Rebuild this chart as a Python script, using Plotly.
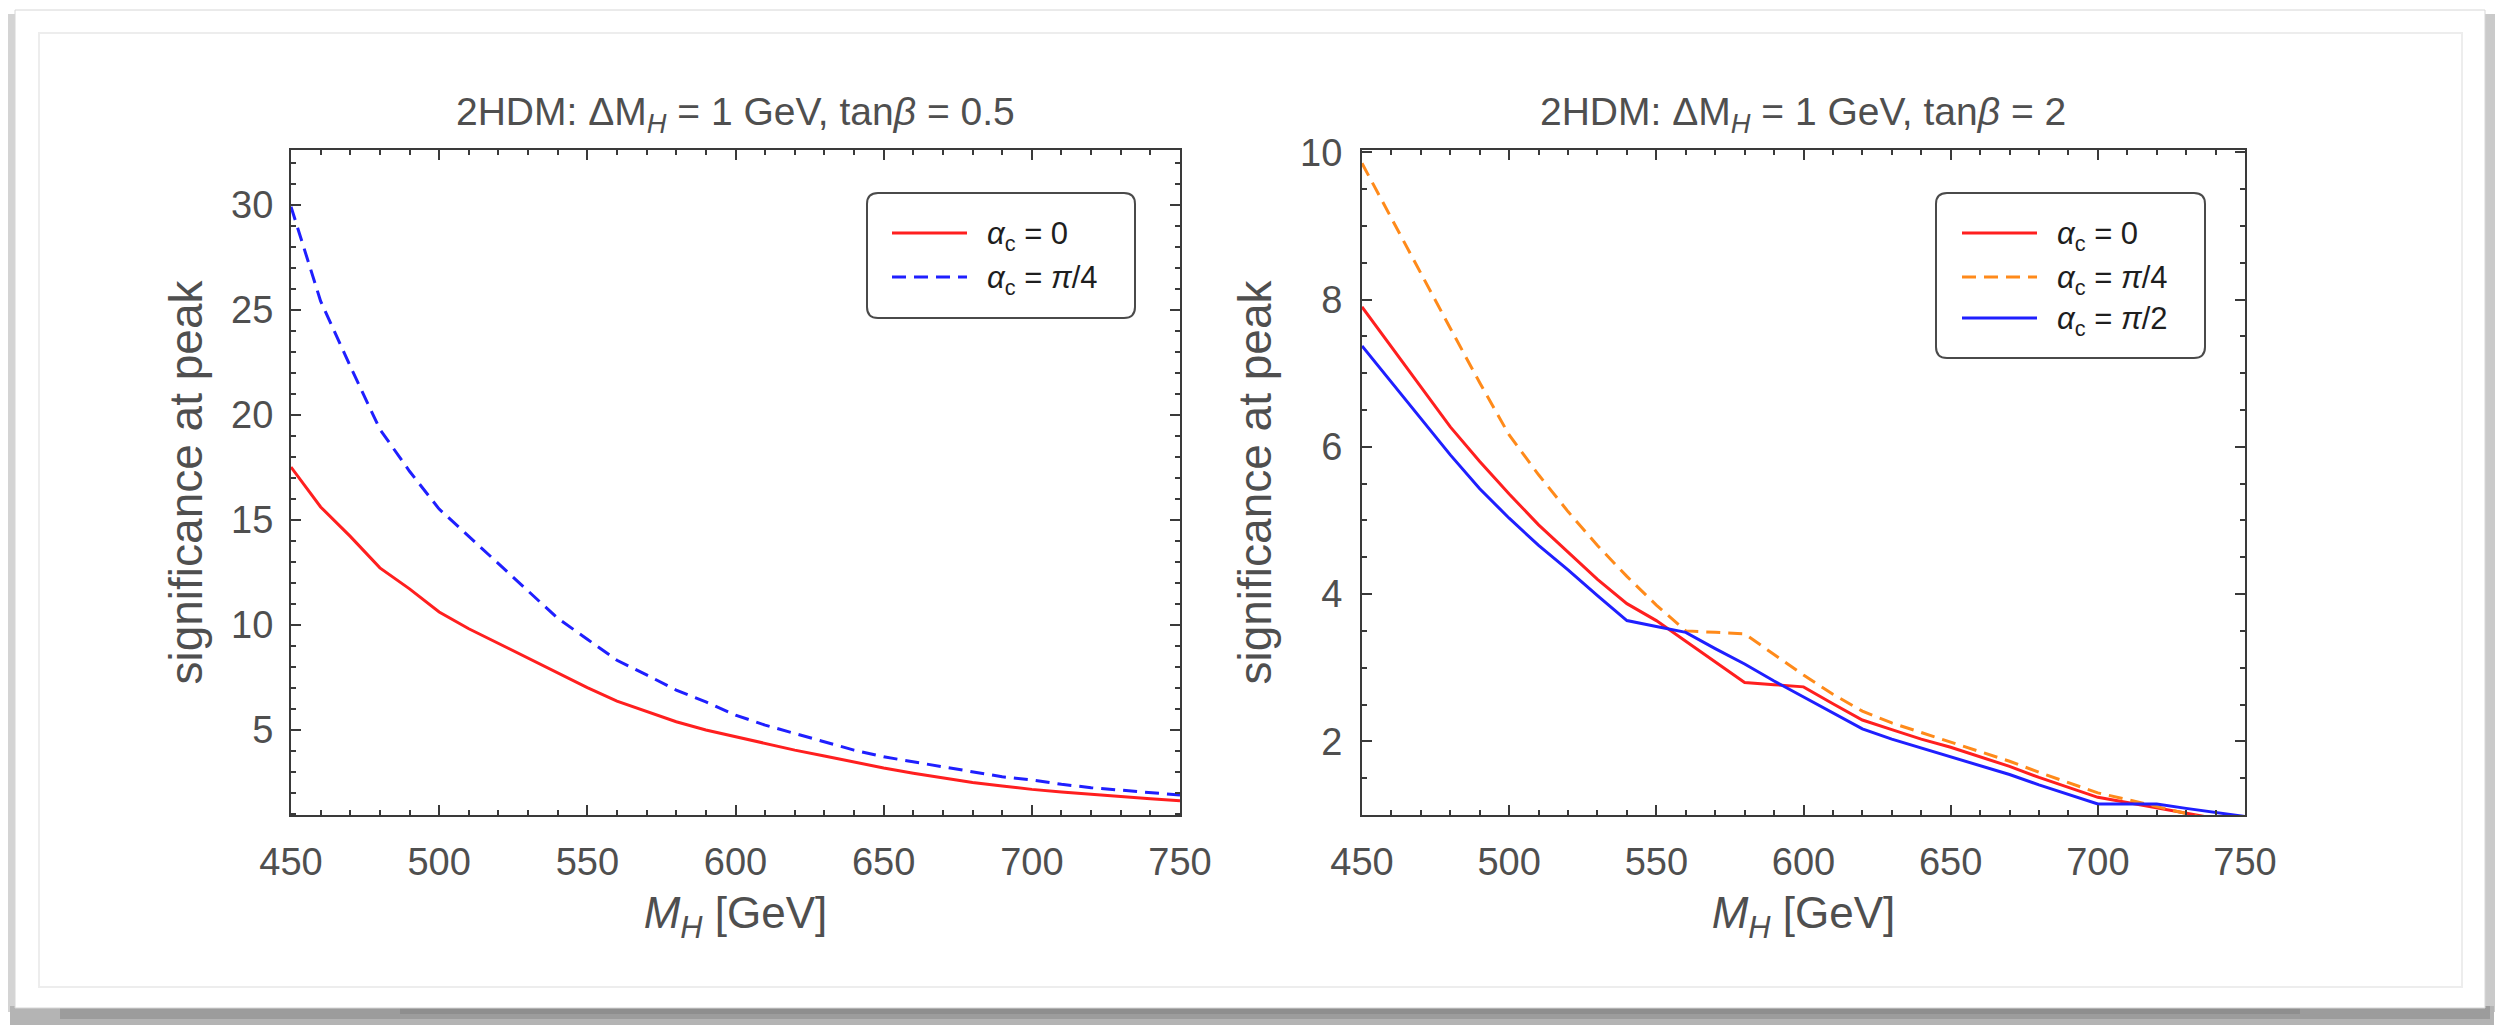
import plotly.graph_objects as go

W, H = 2505, 1025

# ---------------- data ----------------
mass = [450, 460, 470, 480, 490, 500, 510, 520, 530, 540, 550, 560, 570, 580, 590, 600,
        610, 620, 630, 640, 650, 660, 670, 680, 690, 700, 710, 720, 730, 740, 750]

# left panel: tan(beta) = 0.5
left_alpha0 = [17.5, 15.6, 14.2, 12.7, 11.7, 10.6, 9.8, 9.1, 8.4, 7.7, 7.0, 6.35, 5.85, 5.37, 4.98, 4.66,
               4.34, 4.02, 3.74, 3.45, 3.17, 2.92, 2.69, 2.48, 2.31, 2.15, 2.03, 1.91, 1.80, 1.70, 1.61]
left_alpha_pi4 = [29.9, 25.4, 22.3, 19.3, 17.3, 15.5, 14.2, 12.9, 11.6, 10.3, 9.3, 8.3, 7.6, 6.88, 6.32, 5.69,
                  5.21, 4.82, 4.42, 4.02, 3.70, 3.47, 3.23, 2.99, 2.75, 2.60, 2.39, 2.23, 2.12, 1.99, 1.88]

# right panel: tan(beta) = 2
right_alpha0 = [7.90, 7.36, 6.82, 6.27, 5.80, 5.36, 4.94, 4.57, 4.20, 3.87, 3.64, 3.36, 3.08, 2.80, 2.77, 2.74,
                2.51, 2.29, 2.16, 2.03, 1.92, 1.79, 1.66, 1.51, 1.38, 1.24, 1.17, 1.10, 1.02, 0.95, 0.88]
right_alpha_pi4 = [9.85, 9.10, 8.34, 7.61, 6.87, 6.16, 5.62, 5.12, 4.66, 4.24, 3.85, 3.50, 3.48, 3.46, 3.18, 2.90,
                   2.64, 2.41, 2.25, 2.12, 2.00, 1.86, 1.73, 1.58, 1.44, 1.30, 1.21, 1.12, 1.02, 0.92, 0.85]
right_alpha_pi2 = [7.37, 6.88, 6.39, 5.89, 5.43, 5.03, 4.66, 4.33, 3.98, 3.64, 3.56, 3.48, 3.26, 3.05, 2.82, 2.60,
                   2.38, 2.17, 2.03, 1.91, 1.80, 1.67, 1.55, 1.41, 1.28, 1.15, 1.15, 1.15, 1.09, 1.03, 0.98]

x_ticks = [450, 500, 550, 600, 650, 700, 750]
left_y_ticks = [5, 10, 15, 20, 25, 30]
right_y_ticks = [2, 4, 6, 8, 10]

left_title = "2HDM: ΔM<sub><i>H</i></sub> = 1 GeV, tan<i>β</i> = 0.5"
right_title = "2HDM: ΔM<sub><i>H</i></sub> = 1 GeV, tan<i>β</i> = 2"
x_title = "<i>M</i><sub><i>H</i></sub> [GeV]"
y_title = "significance at peak"
lab0 = "<i>α</i><sub>c</sub> = 0"
lab_pi4 = "<i>α</i><sub>c</sub> = <i>π</i>/4"
lab_pi2 = "<i>α</i><sub>c</sub> = <i>π</i>/2"

# ---------------- style ----------------
RED = "#ff1f1f"
BLUE = "#1f1fff"
ORANGE = "#ff8a1a"
TXT = "#4f4f4f"
FRAME = "#3a3a3a"
FONT = "Liberation Sans"
LW = 3
DASH = "14px,8px"


def PX(x):
    return x / W


def PY(y):
    return 1 - y / H


fig = go.Figure()

fig.add_trace(go.Scatter(x=mass, y=left_alpha0, mode="lines", name=lab0,
                         line=dict(color=RED, width=LW), xaxis="x", yaxis="y", showlegend=False))
fig.add_trace(go.Scatter(x=mass, y=left_alpha_pi4, mode="lines", name=lab_pi4,
                         line=dict(color=BLUE, width=LW, dash=DASH), xaxis="x", yaxis="y", showlegend=False))
fig.add_trace(go.Scatter(x=mass, y=right_alpha0, mode="lines", name=lab0,
                         line=dict(color=RED, width=LW), xaxis="x2", yaxis="y2", showlegend=False))
fig.add_trace(go.Scatter(x=mass, y=right_alpha_pi4, mode="lines", name=lab_pi4,
                         line=dict(color=ORANGE, width=LW, dash=DASH), xaxis="x2", yaxis="y2", showlegend=False))
fig.add_trace(go.Scatter(x=mass, y=right_alpha_pi2, mode="lines", name=lab_pi2,
                         line=dict(color=BLUE, width=LW), xaxis="x2", yaxis="y2", showlegend=False))

# plot boxes (pixels)
L = dict(x0=291, x1=1180)
R = dict(x0=1362, x1=2245)
TOP, BOT = 150, 815

common = dict(showgrid=False, zeroline=False, showline=True, linecolor=FRAME, linewidth=2,
              mirror="allticks", ticks="inside", ticklen=10, tickwidth=2, tickcolor=FRAME,
              tickfont=dict(family=FONT, size=38, color=TXT), automargin=False)

xcommon = dict(common, range=[450, 750], tickmode="array", tickvals=x_ticks,
               ticktext=[str(v) for v in x_ticks], ticklabelstandoff=12,
               minor=dict(ticks="inside", ticklen=5, tickwidth=1.5, tickcolor=FRAME, dtick=10, tick0=450),
               title=dict(text=x_title, font=dict(family=FONT, size=44, color=TXT), standoff=16))

fig.update_layout(
    width=W, height=H, template="none",
    margin=dict(l=0, r=0, t=0, b=0),
    paper_bgcolor="white", plot_bgcolor="rgba(0,0,0,0)",
    xaxis=dict(xcommon, domain=[PX(L["x0"]), PX(L["x1"])], anchor="y"),
    xaxis2=dict(xcommon, domain=[PX(R["x0"]), PX(R["x1"])], anchor="y2"),
    yaxis=dict(common, domain=[PY(BOT), PY(TOP)], anchor="x", range=[0.93, 32.6],
               tickmode="array", tickvals=left_y_ticks, ticktext=[str(v) for v in left_y_ticks],
               ticklabelstandoff=8,
               minor=dict(ticks="inside", ticklen=5, tickwidth=1.5, tickcolor=FRAME, dtick=1, tick0=0),
               title=dict(text=y_title, font=dict(family=FONT, size=46, color=TXT), standoff=14)),
    yaxis2=dict(common, domain=[PY(BOT), PY(TOP)], anchor="x2", range=[1.0, 10.03],
                tickmode="array", tickvals=right_y_ticks, ticktext=[str(v) for v in right_y_ticks],
                ticklabelstandoff=10,
                minor=dict(ticks="inside", ticklen=5, tickwidth=1.5, tickcolor=FRAME, dtick=0.5, tick0=0),
                title=dict(text=y_title, font=dict(family=FONT, size=46, color=TXT), standoff=14)),
)


def rrect(x0, y0, x1, y1, r):
    return (f"M{PX(x0 + r)},{PY(y0)} L{PX(x1 - r)},{PY(y0)} Q{PX(x1)},{PY(y0)} {PX(x1)},{PY(y0 + r)} "
            f"L{PX(x1)},{PY(y1 - r)} Q{PX(x1)},{PY(y1)} {PX(x1 - r)},{PY(y1)} "
            f"L{PX(x0 + r)},{PY(y1)} Q{PX(x0)},{PY(y1)} {PX(x0)},{PY(y1 - r)} "
            f"L{PX(x0)},{PY(y0 + r)} Q{PX(x0)},{PY(y0)} {PX(x0 + r)},{PY(y0)} Z")


shapes = []


def prect(x0, y0, x1, y1, fill=None, line=None, lw=0, layer="below"):
    shapes.append(dict(type="rect", xref="paper", yref="paper",
                       x0=PX(x0), x1=PX(x1), y0=PY(y1), y1=PY(y0),
                       fillcolor=fill if fill else "rgba(0,0,0,0)",
                       line=dict(color=line if line else "rgba(0,0,0,0)", width=lw), layer=layer))


# card drop shadow
prect(8, 14, 16, 1012, fill="#d4d4d4")
prect(2484, 14, 2495, 1012, fill="#cacaca")
prect(10, 1006, 2494, 1025, fill="#b4b4b4")
prect(60, 1006, 2490, 1019, fill="#9c9c9c")
prect(400, 1006, 2300, 1014, fill="#8e8e8e")
# card
prect(15, 10, 2485, 1008, fill="white", line="#d6d6d6", lw=1)
prect(39, 33, 2462, 987, fill="white", line="#ededed", lw=2)

# legend boxes
for (x0, y0, x1, y1) in [(867, 193, 1135, 318), (1936, 193, 2205, 358)]:
    shapes.append(dict(type="path", xref="paper", yref="paper", path=rrect(x0, y0, x1, y1, 11),
                       fillcolor="white", line=dict(color="#4a4a4a", width=2), layer="above"))


def legline(x0, x1, y, color, dash):
    shapes.append(dict(type="line", xref="paper", yref="paper", x0=PX(x0), x1=PX(x1), y0=PY(y), y1=PY(y),
                       line=dict(color=color, width=LW, dash=dash), layer="above"))


legline(892, 967, 233, RED, "solid")
legline(892, 967, 277, BLUE, DASH)
legline(1962, 2037, 233, RED, "solid")
legline(1962, 2037, 277, ORANGE, DASH)
legline(1962, 2037, 318, BLUE, "solid")

annotations = []


def text(x, y, s, size, color, xanchor="center"):
    annotations.append(dict(xref="paper", yref="paper", x=PX(x), y=PY(y), text=s, showarrow=False,
                            xanchor=xanchor, yanchor="middle",
                            font=dict(family=FONT, size=size, color=color)))


text(735, 115, left_title, 39, TXT)
text(1803, 115, right_title, 39, TXT)
text(985, 236, lab0, 31, "#1e1e1e", "left")
text(985, 280, lab_pi4, 31, "#1e1e1e", "left")
text(2055, 236, lab0, 31, "#1e1e1e", "left")
text(2055, 280, lab_pi4, 31, "#1e1e1e", "left")
text(2055, 321, lab_pi2, 31, "#1e1e1e", "left")

fig.update_layout(shapes=shapes, annotations=annotations)

fig.write_html("out.html")
